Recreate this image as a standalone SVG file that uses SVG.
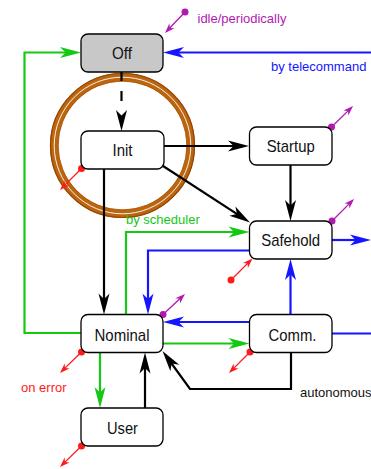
<svg xmlns="http://www.w3.org/2000/svg" width="371" height="469" viewBox="0 0 371 469">
  <style>
    .node rect { fill: #ffffff; stroke: #000000; stroke-width: 1.3; }
    .node.off rect { fill: #c8c8c8; }
    .node text { font-family: "Liberation Sans", Arial, sans-serif; font-size: 17px; fill: #111111; text-anchor: middle; }
    .lbl { font-family: "Liberation Sans", Arial, sans-serif; font-size: 13px; }
    .edge { fill: none; stroke-width: 2.2; stroke-linejoin: miter; }
    .k { stroke: #000000; }
    .b { stroke: #1515ff; }
    .g { stroke: #14c814; }
    .pin { fill: none; stroke-width: 1.3; }
    .m { stroke: #b01ab0; }
    .r { stroke: #ff1a1a; }
  </style>
  <defs>
    <marker id="ah-k" markerUnits="userSpaceOnUse" markerWidth="22" markerHeight="12" refX="13" refY="6" orient="auto" overflow="visible">
      <path d="M21,6 L0,0.5 L5.5,6 L0,11.5 Z" fill="#000000"/>
    </marker>
    <marker id="ah-b" markerUnits="userSpaceOnUse" markerWidth="22" markerHeight="12" refX="13" refY="6" orient="auto" overflow="visible">
      <path d="M21,6 L0,0.5 L5.5,6 L0,11.5 Z" fill="#1515ff"/>
    </marker>
    <marker id="ah-g" markerUnits="userSpaceOnUse" markerWidth="22" markerHeight="12" refX="13" refY="6" orient="auto" overflow="visible">
      <path d="M21,6 L0,0.5 L5.5,6 L0,11.5 Z" fill="#14c814"/>
    </marker>
    <marker id="sa-m" markerUnits="userSpaceOnUse" markerWidth="10" markerHeight="7" refX="7" refY="3.5" orient="auto" overflow="visible">
      <path d="M10,3.5 L0,0 L3,3.5 L0,7 Z" fill="#b01ab0"/>
    </marker>
    <marker id="sa-r" markerUnits="userSpaceOnUse" markerWidth="10" markerHeight="7" refX="7" refY="3.5" orient="auto" overflow="visible">
      <path d="M10,3.5 L0,0 L3,3.5 L0,7 Z" fill="#ff1a1a"/>
    </marker>
  </defs>

  <!-- highlight ring around the Init state -->
  <g id="ring" fill="none">
    <circle cx="122.5" cy="145.5" r="68.3" stroke="#bb650f" stroke-width="8.6"/>
    <circle cx="122.5" cy="145.5" r="72" stroke="#93460a" stroke-width="1.2"/>
    <circle cx="122.5" cy="145.5" r="64.4" stroke="#a65607" stroke-width="0.8"/>
    <circle cx="122.5" cy="145.5" r="68.3" stroke="#ffffff" stroke-width="0.9"/>
  </g>

  <g id="connectors">
    <!-- black transitions -->
    <path class="edge k" d="M121.5,72 V123" stroke-dasharray="9 10 10 100" marker-end="url(#ah-k)"/>
    <path class="edge k" d="M164,146 H241" marker-end="url(#ah-k)"/>
    <path class="edge k" d="M161.5,165 L243.3,218.1" marker-end="url(#ah-k)"/>
    <path class="edge k" d="M290.5,165 V213" marker-end="url(#ah-k)"/>
    <path class="edge k" d="M104,169 V306.5" marker-end="url(#ah-k)"/>
    <path class="edge k" d="M145,408 V360.5" marker-end="url(#ah-k)"/>
    <path class="edge k" d="M291,352.5 V389 H190 L167.2,357.5" marker-end="url(#ah-k)"/>

    <!-- blue transitions -->
    <path class="edge b" d="M371,52.5 H171" marker-end="url(#ah-b)"/>
    <path class="edge b" d="M249.5,250.5 H148 V306.5" marker-end="url(#ah-b)"/>
    <path class="edge b" d="M332,240 H363" marker-end="url(#ah-b)"/>
    <path class="edge b" d="M290.5,314.5 V267" marker-end="url(#ah-b)"/>
    <path class="edge b" d="M249.5,322 H171" marker-end="url(#ah-b)"/>
    <path class="edge b" d="M332,333.5 H371"/>

    <!-- green transitions -->
    <path class="edge g" d="M81,333 H24.5 V52.5 H73" marker-end="url(#ah-g)"/>
    <path class="edge g" d="M126,314.5 V232 H241.5" marker-end="url(#ah-g)"/>
    <path class="edge g" d="M163,343.5 H241.5" marker-end="url(#ah-g)"/>
    <path class="edge g" d="M100,352.5 V400" marker-end="url(#ah-g)"/>

    <!-- entry / exit pins -->
    <g class="pins-m">
      <circle cx="185" cy="12" r="3.5" fill="#b01ab0"/>
      <path class="pin m" d="M185,12 L167.1,30.8" marker-end="url(#sa-m)"/>
      <circle cx="331.5" cy="127" r="3.5" fill="#b01ab0"/>
      <path class="pin m" d="M331.5,127 L350.9,108.1" marker-end="url(#sa-m)"/>
      <circle cx="332" cy="221" r="3.5" fill="#b01ab0"/>
      <path class="pin m" d="M332,221 L351.9,201.1" marker-end="url(#sa-m)"/>
      <circle cx="163" cy="314.5" r="3.5" fill="#b01ab0"/>
      <path class="pin m" d="M163,314.5 L182.8,296.1" marker-end="url(#sa-m)"/>
    </g>
    <g class="pins-r">
      <circle cx="81.5" cy="168.5" r="3.5" fill="#ff1a1a"/>
      <path class="pin r" d="M81.5,168.5 L62.1,187.9" marker-end="url(#sa-r)"/>
      <circle cx="231" cy="280" r="3.5" fill="#ff1a1a"/>
      <path class="pin r" d="M231,280 L250.4,260.6" marker-end="url(#sa-r)"/>
      <circle cx="81.5" cy="352" r="3.5" fill="#ff1a1a"/>
      <path class="pin r" d="M81.5,352 L62.1,370.9" marker-end="url(#sa-r)"/>
      <circle cx="250" cy="352" r="3.5" fill="#ff1a1a"/>
      <path class="pin r" d="M250,352 L231.1,370.9" marker-end="url(#sa-r)"/>
      <circle cx="81.5" cy="446" r="3.5" fill="#ff1a1a"/>
      <path class="pin r" d="M81.5,446 L62.1,464.9" marker-end="url(#sa-r)"/>
    </g>
  </g>

  <g id="node-off" class="node off">
    <rect x="81" y="34" width="82" height="38" rx="7"/>
    <text x="122" y="59.3" textLength="20" lengthAdjust="spacingAndGlyphs">Off</text>
  </g>
  <g id="node-init" class="node">
    <rect x="81" y="131" width="83" height="38" rx="7"/>
    <text x="122.5" y="156" textLength="20" lengthAdjust="spacingAndGlyphs">Init</text>
  </g>
  <g id="node-startup" class="node">
    <rect x="249.5" y="127" width="82.5" height="38" rx="7"/>
    <text x="290.7" y="152" textLength="48" lengthAdjust="spacingAndGlyphs">Startup</text>
  </g>
  <g id="node-safehold" class="node">
    <rect x="249.5" y="221" width="82.5" height="38" rx="7"/>
    <text x="290.7" y="246.2" textLength="59" lengthAdjust="spacingAndGlyphs">Safehold</text>
  </g>
  <g id="node-nominal" class="node">
    <rect x="81" y="314.5" width="82" height="38" rx="7"/>
    <text x="122" y="340.5" textLength="55" lengthAdjust="spacingAndGlyphs">Nominal</text>
  </g>
  <g id="node-comm" class="node">
    <rect x="249.5" y="314.5" width="82.5" height="38" rx="7"/>
    <text x="292.5" y="340.5" textLength="48" lengthAdjust="spacingAndGlyphs">Comm.</text>
  </g>
  <g id="node-user" class="node">
    <rect x="81" y="408" width="82" height="38" rx="7"/>
    <text x="122.5" y="433.5" textLength="31" lengthAdjust="spacingAndGlyphs">User</text>
  </g>

  <g id="labels">
    <text class="lbl" x="197.5" y="23" fill="#b01ab0">idle/periodically</text>
    <text class="lbl" x="271" y="70.5" fill="#1515ff">by telecommand</text>
    <text class="lbl" x="126" y="224" fill="#14c814">by scheduler</text>
    <text class="lbl" x="21" y="392" fill="#ff1a1a">on error</text>
    <text class="lbl" x="300" y="396.5" fill="#111111" font-size="12">autonomous</text>
  </g>
</svg>
